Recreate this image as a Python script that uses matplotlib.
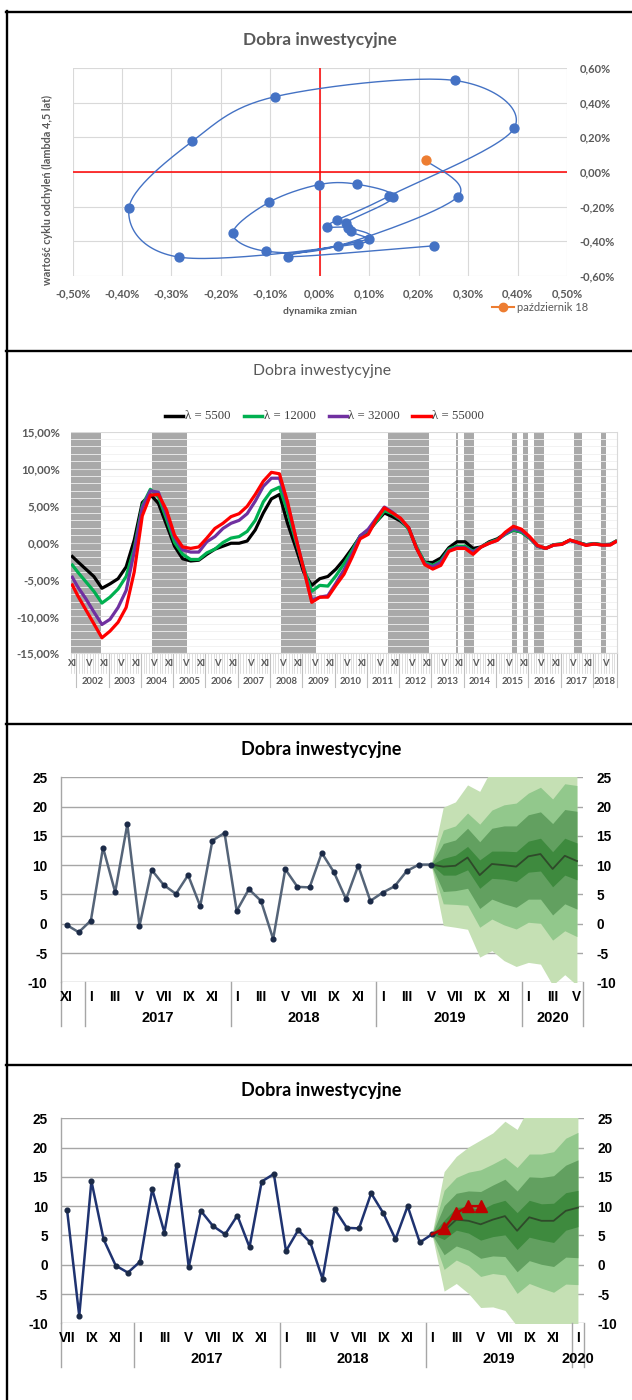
import numpy as np
import matplotlib
matplotlib.use('Agg')
import matplotlib.pyplot as plt
from matplotlib.lines import Line2D

W, H = 632, 1400

# ---------------- panel 1: zegar koniunktury ----------------
zmiana_x = [0.230, -0.065, 0.099, 0.057, 0.014, 0.035, 0.140, 0.393, 0.273, -0.090,
            -0.258, -0.386, -0.285, 0.077, 0.063, 0.053, 0.148, 0.076, -0.002, -0.103,
            -0.176, -0.108, 0.037, 0.279, 0.215]
cykl_y = [-0.426, -0.488, -0.385, -0.322, -0.318, -0.277, -0.139, 0.252, 0.528, 0.435,
          0.177, -0.208, -0.491, -0.414, -0.343, -0.293, -0.146, -0.071, -0.073, -0.175,
          -0.353, -0.457, -0.426, -0.143, 0.067]
ostatni_opis = 'październik 18'

# ---------------- panel 2: cykle dla różnych lambda ----------------
miesiace2 = [0] + list(range(2, 201, 3)) + [202]   # 0 = XI 2001
lam_5500 = [-1.9, -2.6, -3.6, -4.6, -6.2, -5.6, -4.9, -3.3, 0.3, 5.4, 6.5, 5.3, 2.4, -0.5,
            -2.2, -2.5, -2.4, -1.6, -0.9, -0.5, -0.1, -0.1, 0.2, 1.7, 4.0, 5.9, 6.5, 2.6,
            -0.6, -4.0, -5.8, -4.9, -4.6, -3.6, -2.3, -0.8, 0.8, 1.5, 2.8, 4.0, 3.5, 2.9,
            2.0, -0.8, -2.7, -2.7, -2.1, -0.7, 0.1, 0.1, -0.8, -0.6, 0.1, 0.5, 1.2, 1.7,
            1.4, 0.6, -0.5, -0.8, -0.3, -0.2, 0.3, 0.0, -0.3, -0.15, -0.3, -0.25, 0.15]
lam_12000 = [-3.05, -4.0, -5.3, -6.6, -8.2, -7.4, -6.3, -4.6, -0.8, 5.0, 7.2, 6.2, 3.2, 0.0,
             -1.6, -2.3, -2.3, -1.4, -0.9, 0.0, 0.6, 0.8, 1.5, 3.0, 5.5, 7.0, 7.5, 4.2,
             0.3, -3.4, -6.6, -5.8, -5.9, -4.5, -2.9, -1.1, 0.9, 1.6, 2.8, 4.3, 3.9, 3.1,
             1.8, -0.6, -2.7, -3.1, -2.5, -0.9, -0.5, -0.5, -1.2, -0.6, 0.0, 0.4, 1.1, 1.7,
             1.4, 0.6, -0.5, -0.8, -0.3, -0.2, 0.3, 0.0, -0.3, -0.15, -0.3, -0.25, 0.15]
lam_32000 = [-4.7, -6.0, -7.6, -9.4, -11.1, -10.4, -8.8, -6.5, -1.3, 4.7, 7.0, 6.8, 3.8, 0.7,
             -1.0, -1.3, -1.3, 0.1, 0.8, 1.9, 2.6, 3.0, 3.9, 5.6, 7.6, 8.7, 8.7, 5.2,
             0.8, -3.6, -7.8, -7.4, -7.2, -5.5, -3.7, -1.6, 0.9, 1.8, 3.3, 4.8, 4.1, 3.2,
             2.0, -0.8, -2.9, -3.3, -2.7, -1.1, -0.7, -0.7, -1.3, -0.6, -0.1, 0.3, 1.2, 1.9,
             1.6, 0.7, -0.5, -0.8, -0.35, -0.25, 0.3, -0.05, -0.35, -0.2, -0.35, -0.3, 0.1]
lam_55000 = [-5.75, -7.2, -9.1, -11.0, -12.9, -12.0, -10.8, -8.8, -4.0, 3.6, 6.4, 6.5, 4.4, 1.0,
             -0.6, -0.8, -0.6, 0.6, 1.9, 2.6, 3.5, 3.9, 4.9, 6.5, 8.3, 9.5, 9.3, 5.5,
             0.8, -3.6, -8.1, -7.4, -7.4, -5.8, -4.3, -2.0, 0.5, 1.1, 3.1, 4.7, 4.0, 3.3,
             2.0, -0.8, -3.0, -3.6, -3.1, -1.2, -0.8, -0.8, -1.6, -0.6, -0.1, 0.3, 1.4, 2.2,
             1.8, 0.8, -0.4, -0.8, -0.35, -0.25, 0.35, 0.0, -0.4, -0.2, -0.35, -0.35, 0.1]
serie2 = [('λ = 5500', lam_5500, '#000000'), ('λ = 12000', lam_12000, '#00B050'),
          ('λ = 32000', lam_32000, '#7030A0'), ('λ = 55000', lam_55000, '#FF0000')]
okres_od = [0, 30, 78, 118, 143, 146, 164, 168, 172, 187, 197]
okres_do = [11, 43, 91, 133, 144, 150, 166, 170, 176, 190, 199]
lata2 = list(range(2002, 2019))
n_mies2 = 203

# ---------------- panel 3: prognoza od V 2019 ----------------
hist3 = [-0.2, -1.45, 0.55, 13.0, 5.4, 17.0, -0.4, 9.2, 6.6, 5.1, 8.3, 3.0, 14.2, 15.5, 2.2,
         5.9, 3.9, -2.6, 9.3, 6.3, 6.2, 12.1, 8.8, 4.2, 9.9, 3.9, 5.3, 6.4, 9.0, 10.1, 10.1]
p3_srodek = [10.1, 9.75, 9.9, 11.3, 8.3, 10.2, 10.0, 9.75, 11.5, 11.9, 9.35, 11.6, 10.7]
p3_g4 = [10.1, 11.15, 11.7, 13.2, 10.9, 12.4, 12.4, 12.3, 14.1, 14.6, 12.3, 14.6, 13.8]
p3_d4 = [10.1, 8.3, 8.3, 9.2, 6.05, 7.75, 7.6, 7.2, 8.8, 9.0, 6.3, 8.3, 7.5]
p3_g3 = [10.1, 13.7, 14.3, 16.3, 14.0, 16.3, 16.7, 16.7, 18.6, 19.1, 17.1, 19.5, 19.2]
p3_d3 = [10.1, 5.5, 5.65, 6.05, 2.6, 4.2, 3.4, 2.8, 4.2, 4.2, 1.5, 3.4, 2.5]
p3_g2 = [10.1, 16.0, 16.7, 18.9, 17.0, 19.4, 20.3, 20.6, 22.3, 23.3, 21.3, 23.9, 23.6]
p3_d2 = [10.1, 3.4, 3.3, 3.15, -0.6, 0.8, -0.2, -0.9, 0.25, 0.07, -2.8, -1.2, -2.2]
p3_g1 = [10.1, 19.9, 20.8, 23.7, 22.6, 26.5, 27.5, 28.0, 29.5, 30.0, 28.5, 30.5, 30.5]
p3_d1 = [10.1, -0.3, -0.6, -0.95, -5.7, -4.6, -6.3, -7.3, -6.6, -6.9, -10.5, -8.7, -10.5]

# ---------------- panel 4: prognoza od I 2019 ----------------
hist4 = [9.35, -8.75, 14.3, 4.35, -0.15, -1.35, 0.53, 12.9, 5.5, 17.0, -0.4, 9.2, 6.6, 5.2,
         8.4, 3.0, 14.2, 15.5, 2.35, 5.9, 3.8, -2.4, 9.5, 6.3, 6.2, 12.2, 8.8, 4.35, 10.0,
         3.8, 5.2]
p4_srodek = [5.2, 5.8, 7.7, 7.5, 6.9, 7.7, 8.3, 5.8, 8.1, 7.5, 7.5, 9.2, 9.75]
p4_g4 = [5.2, 7.6, 9.8, 9.9, 9.35, 10.4, 11.0, 8.9, 11.0, 10.4, 10.5, 12.3, 12.7]
p4_d4 = [5.2, 4.3, 5.9, 5.4, 4.2, 4.8, 5.1, 2.6, 4.7, 4.2, 3.8, 5.9, 6.5]
p4_g3 = [5.2, 10.1, 12.2, 12.6, 12.5, 13.6, 14.6, 12.6, 15.0, 14.9, 15.2, 17.0, 17.9]
p4_d3 = [5.2, 1.7, 3.2, 2.5, 1.1, 1.5, 1.4, -1.2, 0.7, 0.07, -0.3, 1.3, 1.2]
p4_g2 = [5.2, 12.7, 14.9, 15.8, 16.2, 17.2, 18.3, 16.6, 18.9, 18.9, 19.3, 21.6, 22.6]
p4_d2 = [5.2, -0.8, 0.8, -0.15, -2.0, -1.5, -1.75, -4.9, -3.2, -4.0, -4.7, -3.3, -3.4]
p4_g1 = [5.2, 15.9, 18.5, 20.1, 21.3, 22.5, 24.5, 23.1, 27.0, 27.0, 27.5, 29.0, 30.0]
p4_d1 = [5.2, -4.5, -3.2, -4.9, -7.3, -7.2, -7.8, -10.5, -11.0, -11.0, -11.5, -11.0, -11.0]
p4_odczyt = [5.2, 6.2, 8.8, 10.0, 10.0]

rzymskie = ['I', 'II', 'III', 'IV', 'V', 'VI', 'VII', 'VIII', 'IX', 'X', 'XI', 'XII']
zielenie = ['#C5E0B4', '#92C88C', '#62A060', '#3E8A3E']

plt.rcParams['font.family'] = ['Lato', 'DejaVu Sans']
plt.rcParams['axes.unicode_minus'] = False


def rect(l, t, r, b):
    return [l / W, 1 - b / H, (r - l) / W, (b - t) / H]


def fx(px):
    return px / W


def fy(py):
    return 1 - py / H


def gladka(xs, ys, n=30):
    # wygładzona linia jak w Excelu (krzywe Beziera przez punkty)
    p = np.column_stack([xs, ys])
    out = [p[0]]
    t = np.linspace(0, 1, n)[1:, None]
    for i in range(len(p) - 1):
        p0 = p[max(i - 1, 0)]
        p1, p2 = p[i], p[i + 1]
        p3 = p[min(i + 2, len(p) - 1)]
        c1 = p1 + (p2 - p0) / 6
        c2 = p2 - (p3 - p1) / 6
        seg = (1 - t) ** 3 * p1 + 3 * (1 - t) ** 2 * t * c1 + 3 * (1 - t) * t ** 2 * c2 + t ** 3 * p2
        out.extend(seg)
    out = np.array(out)
    return out[:, 0], out[:, 1]


def proc(v, dec=2):
    s = f'{v:.{dec}f}%'.replace('.', ',')
    if s.startswith('-') and float(v) == 0:
        s = s[1:]
    return s


fig = plt.figure(figsize=(W / 100, H / 100), dpi=100)

# ramki
for y in [12, 351, 724, 1065]:
    fig.add_artist(Line2D([fx(6), 1], [fy(y), fy(y)], color='black', lw=1.7))
fig.add_artist(Line2D([fx(7), fx(7)], [fy(11), 0], color='black', lw=1.7))

# ================= panel 1 =================
szary = '#595959'
ax1 = fig.add_axes(rect(72.6, 68, 567, 276))
ax1.set_xlim(-0.5, 0.5)
ax1.set_ylim(-0.6, 0.6)
xt = np.round(np.arange(-0.5, 0.51, 0.1), 2)
yt = np.round(np.arange(-0.6, 0.61, 0.2), 2)
ax1.set_xticks(xt)
ax1.set_xticklabels([proc(v) for v in xt])
ax1.set_yticks(yt)
ax1.set_yticklabels([proc(v) for v in yt])
ax1.yaxis.tick_right()
ax1.tick_params(length=0, labelsize=8, colors=szary, pad=9)
for lab in ax1.get_xticklabels() + ax1.get_yticklabels():
    lab.set_fontweight('bold')
ax1.grid(True, color='#D9D9D9', lw=0.8)
ax1.set_axisbelow(True)
for s in ax1.spines.values():
    s.set_visible(False)
ax1.axvline(0, color='#FF0000', lw=1.1, zorder=2)
ax1.axhline(0, color='#FF0000', lw=1.1, zorder=2)
gx, gy = gladka(zmiana_x, cykl_y)
ax1.plot(gx, gy, color='#4472C4', lw=1.0, zorder=3)
ax1.plot(zmiana_x[:-1], cykl_y[:-1], 'o', color='#4472C4', ms=6.4, zorder=4)
ax1.plot(zmiana_x[-1:], cykl_y[-1:], 'o', color='#ED7D31', ms=6.4, zorder=5)

fig.text(fx(320), fy(40), 'Dobra inwestycyjne', ha='center', va='center',
         fontsize=12.4, fontweight='bold', color=szary)
fig.text(fx(320), fy(311), 'dynamika zmian', ha='center', va='center',
         fontsize=7.4, fontweight='bold', color=szary)
fig.text(fx(47.5), fy(190), 'wartość cyklu odchyleń (lambda 4,5 lat)', ha='center',
         va='center', rotation=90, fontsize=7.8, fontweight='bold', color=szary)
fig.add_artist(Line2D([fx(492), fx(514)], [fy(307), fy(307)], color='#ED7D31', lw=1.5))
fig.add_artist(Line2D([fx(503)], [fy(307)], marker='o', color='#ED7D31', ms=6))
fig.text(fx(517), fy(307.5), ostatni_opis, ha='left', va='center', fontsize=8, color=szary)

# ================= panel 2 =================
ax2 = fig.add_axes(rect(71, 431.7, 617, 653.3))
ax2.set_xlim(0, n_mies2)
ax2.set_ylim(-15, 15)
for a, b in zip(okres_od, okres_do):
    ax2.axvspan(a, b, color='#A9A9A9', lw=0, zorder=1)
ax2.set_yticks(np.arange(-15, 16, 5))
ax2.set_yticklabels([proc(v) for v in np.arange(-15, 16, 5)])
ax2.set_yticks(np.arange(-15, 16, 1), minor=True)
ax2.grid(True, axis='y', which='major', color='#D9D9D9', lw=0.8, zorder=0)
ax2.grid(True, axis='y', which='minor', color='#F0F0F0', lw=0.6, zorder=0)
ax2.tick_params(axis='y', which='both', length=0, labelsize=8.3, colors=szary, pad=8)
for lab in ax2.get_yticklabels():
    lab.set_fontweight('bold')
ax2.set_xticks([])
for s in ax2.spines.values():
    s.set_visible(False)
ax2.spines['bottom'].set_visible(True)
ax2.spines['bottom'].set_color('#D9D9D9')
ax2.spines['right'].set_visible(True)
ax2.spines['right'].set_color('#D9D9D9')
xm = np.array(miesiace2) + 0.5
for nazwa, vals, kol in serie2:
    ax2.plot(xm, vals, color=kol, lw=2.3, zorder=3, solid_joinstyle='round')

tr2 = ax2.get_xaxis_transform()
h2 = 653.3 - 431.7
for m in range(n_mies2 + 1):
    ax2.add_line(Line2D([m, m], [0, -20 / h2], transform=tr2, color='#D0D0D0',
                        lw=0.5, clip_on=False))
for m in range(0, n_mies2, 6):
    ax2.text(m + 0.5, -10.7 / h2, rzymskie[(m + 10) % 12], transform=tr2, ha='center',
             va='center', fontsize=6.8, fontweight='bold', color=szary)
for k, rok in enumerate(lata2):
    start = 2 + 12 * k
    koniec = min(start + 12, n_mies2)
    ax2.add_line(Line2D([start, start], [0, -33.7 / h2], transform=tr2, color='#BFBFBF',
                        lw=0.8, clip_on=False))
    ax2.text((start + koniec) / 2, -28.4 / h2, str(rok), transform=tr2, ha='center',
             va='center', fontsize=6.8, fontweight='bold', color=szary)
ax2.add_line(Line2D([n_mies2, n_mies2], [0, -33.7 / h2], transform=tr2, color='#BFBFBF',
                    lw=0.8, clip_on=False))

fig.text(fx(322), fy(371), 'Dobra inwestycyjne', ha='center', va='center',
         fontsize=11.3, color=szary)
leg_x = [(165, 183, 185), (244, 262, 264), (329, 347, 348), (412, 431, 432)]
for (x0, x1, xt0), (nazwa, vals, kol) in zip(leg_x, serie2):
    fig.add_artist(Line2D([fx(x0), fx(x1)], [fy(415.7), fy(415.7)], color=kol, lw=2.5))
    fig.text(fx(xt0), fy(416), nazwa, ha='left', va='center', fontsize=9.2,
             family=['Liberation Serif', 'DejaVu Serif'], color='#404040')


# ================= panele 3 i 4 =================
def panel_prognozy(box, t_tytul, hist, srodek, pasma, pierwszy_mies, lata_od, rok_pierwszy,
                   linia_kol, odczyt=None):
    l, t, r, b = box
    ax = fig.add_axes(rect(l, t, r, b))
    n = 43
    ax.set_xlim(0, n)
    ax.set_ylim(-10, 25)
    yt = np.arange(-10, 26, 5)
    ax.set_yticks(yt)
    ax.set_yticklabels([str(v) for v in yt])
    ax.tick_params(axis='y', which='both', length=0, labelsize=9.8, pad=9.5,
                   labelright=True, right=False)
    for lab in ax.yaxis.get_majorticklabels():
        lab.set_fontweight('bold')
        lab.set_family(['Liberation Sans', 'DejaVu Sans'])
    ax.grid(True, axis='y', color='#A6A6A6', lw=1.0, zorder=0)
    ax.set_axisbelow(True)
    ax.set_xticks([])
    for s in ax.spines.values():
        s.set_visible(False)
    ax.spines['left'].set_visible(True)
    ax.spines['left'].set_color('#A6A6A6')
    ax.spines['left'].set_linewidth(1.0)

    i0 = len(hist) - 1
    xf = np.arange(i0, i0 + len(srodek)) + 0.5
    for (dol, gora), kol in zip(pasma, zielenie):
        ax.fill_between(xf, dol, gora, color=kol, lw=0, zorder=1)
    ax.plot(xf, srodek, color='#2F4A2A', lw=1.3, zorder=3)
    xh = np.arange(len(hist)) + 0.5
    ax.plot(xh, hist, color=linia_kol, lw=1.8, zorder=4, marker='o', ms=3.4,
            mfc='#1B2A47', mec='#1B2A47')
    if odczyt is not None:
        xo = np.arange(i0, i0 + len(odczyt)) + 0.5
        ax.plot(xo, odczyt, color='#C00000', lw=1.8, zorder=5, marker='^', ms=8,
                markevery=list(range(1, len(odczyt))), mfc='#C00000', mec='#C00000')

    tr = ax.get_xaxis_transform()
    h = b - t
    for i in range(0, n, 2):
        ax.text(i + 0.5, -14.4 / h, rzymskie[(pierwszy_mies + i) % 12], transform=tr,
                ha='center', va='center', fontsize=9.8, fontweight='bold',
                family=['Liberation Sans Narrow', 'Liberation Sans', 'DejaVu Sans'])
    granice = [0] + list(range(lata_od, n, 12)) + [n]
    for g in granice:
        ax.add_line(Line2D([g, g], [0, -43.7 / h], transform=tr, color='#A6A6A6', lw=1.0,
                           clip_on=False))
    for k, g in enumerate(granice[1:-1]):
        koniec = min(g + 12, n)
        ax.text((g + koniec) / 2, -35.4 / h, str(rok_pierwszy + k), transform=tr,
                ha='center', va='center', fontsize=10.5, fontweight='bold',
                family=['Liberation Sans', 'DejaVu Sans'])
    fig.text(fx(321), fy(t - 28), t_tytul, ha='center', va='center', fontsize=13,
             fontweight='bold', color='black')
    return ax


pasma3 = [(p3_d1, p3_g1), (p3_d2, p3_g2), (p3_d3, p3_g3), (p3_d4, p3_g4)]
panel_prognozy((60.5, 777.3, 583, 982.3), 'Dobra inwestycyjne', hist3, p3_srodek, pasma3,
               10, 2, 2017, '#556478')

pasma4 = [(p4_d1, p4_g1), (p4_d2, p4_g2), (p4_d3, p4_g3), (p4_d4, p4_g4)]
panel_prognozy((61, 1118.3, 584, 1323.3), 'Dobra inwestycyjne', hist4, p4_srodek, pasma4,
               6, 6, 2017, '#1F3370', odczyt=p4_odczyt)

fig.savefig('out.png', dpi=100)
